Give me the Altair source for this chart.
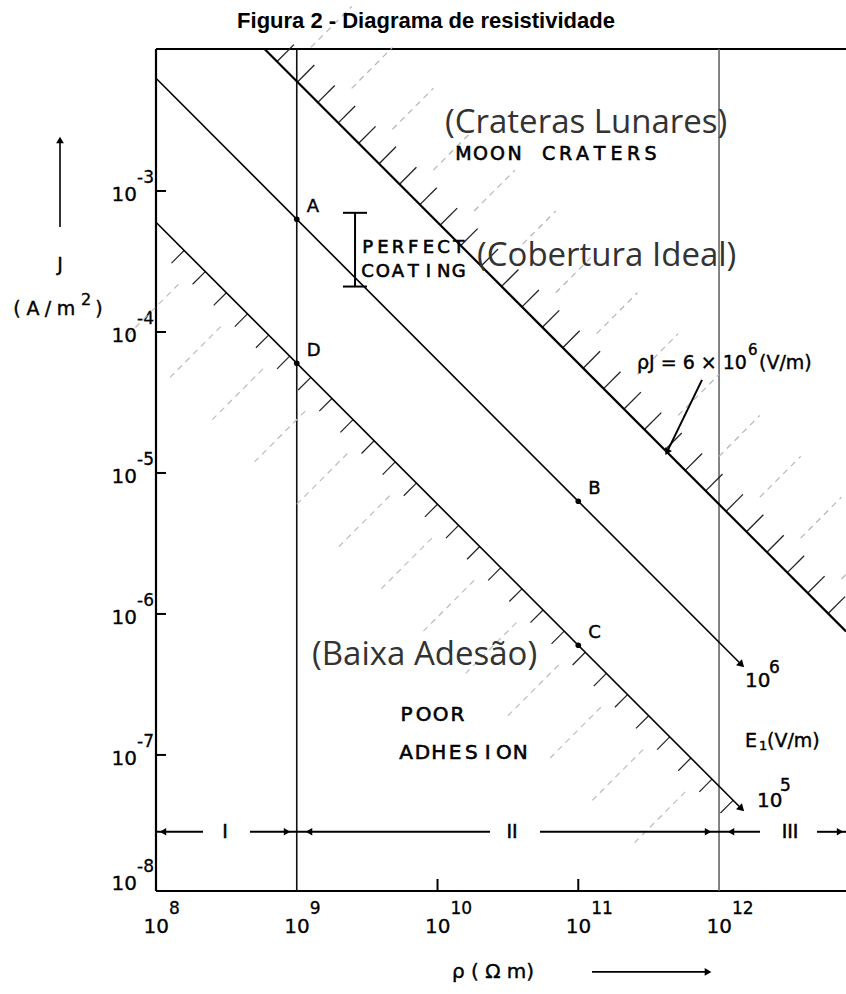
import altair as alt
import pandas as pd
import numpy as np

# ---------------- data ----------------
# axis decades
rho_ticks = [1e8, 1e9, 1e10, 1e11, 1e12]
rho_exp = ["8", "9", "10", "11", "12"]
j_ticks = [1e-3, 1e-4, 1e-5, 1e-6, 1e-7, 1e-8]
j_exp = ["-3", "-4", "-5", "-6", "-7", "-8"]

# constant-field lines  rho * J = E  (V/m)
line_E = [6.0e6, 6.3e5, 6.0e4]
line_rho_start = [10 ** 8.771, 1e8, 1e8]
line_rho_end = [10 ** 12.902, 10 ** 12.16, 10 ** 12.16]
line_width = [2.2, 1.6, 1.6]

# marked points
pt_name = ["A", "B", "C", "D"]
pt_rho = [1e9, 1e11, 1e11, 1e9]
pt_J = [6.3e-4, 6.3e-6, 6.0e-7, 6.0e-5]

# resistivity regions
region_edges = [1e9, 1e12]
region_edge_color = ["#111111", "#666666"]
region_labels = ["I", "II", "III"]
region_J = 2.85e-8

# perfect-coating band
coat_rho = 10 ** 9.414
coat_J = [7.0e-4, 2.1e-4]

# ---------------- geometry ----------------
W, H = 690, 842
OX, OY = 156, 49
RHO_MAX = 10 ** 12.902
J_MIN, J_MAX = 10 ** -7.965, 10 ** -1.993
DX, DY = 140.75, 141.0  # pixels per decade


def P(x):
    """page x -> resistivity"""
    return 10 ** (8 + (x - OX) / DX)


def Q(y):
    """page y -> current density"""
    return 10 ** (np.log10(J_MAX) - (y - OY) / DY)


def ypix(j):
    return OY + DY * (np.log10(J_MAX) - np.log10(j))


xs = alt.Scale(type="log", domain=[1e8, RHO_MAX], nice=False)
ys = alt.Scale(type="log", domain=[J_MIN, J_MAX], nice=False)


def X(f="rho"):
    return alt.X(f"{f}:Q", scale=xs, axis=None)


def Y(f="J"):
    return alt.Y(f"{f}:Q", scale=ys, axis=None)


one = pd.DataFrame({"k": [0]})
layers = []


def seg_layer(df, color="black", width=1.5, dash=None, opacity=1.0):
    kw = dict(color=color, strokeWidth=width, opacity=opacity)
    if dash:
        kw["strokeDash"] = dash
    return alt.Chart(df).mark_rule(**kw).encode(
        x=X("rho"), y=Y("J"), x2=alt.X2("rho2:Q"), y2=alt.Y2("J2:Q"))


def text_layer(df, size=20, font="DejaVu Sans", color="black", align="center",
               baseline="middle", weight="normal", dx=0, dy=0, stroke=None):
    kw = dict(fontSize=size, font=font, color=color, align=align,
              baseline=baseline, fontWeight=weight, dx=dx, dy=dy)
    if stroke:
        kw["stroke"] = color
        kw["strokeWidth"] = stroke
    return alt.Chart(df).mark_text(**kw).encode(x=X("rho"), y=Y("J"), text="t:N")


def spaced(text, x_left, y_mid, pitch):
    rows = []
    for i, c in enumerate(text):
        if c != " ":
            rows.append({"t": c, "rho": P(x_left + pitch * (i + 0.5)), "J": Q(y_mid)})
    return pd.DataFrame(rows)


def at(items):
    return pd.DataFrame([{"t": t, "rho": P(x), "J": Q(y)} for t, x, y in items])


# ---------------- frame ----------------
frame = alt.Chart(one).mark_rule(color="black", strokeWidth=2.2)
layers += [
    frame.encode(x=alt.value(0), x2=alt.value(W), y=alt.value(0)),
    frame.encode(x=alt.value(0), y=alt.value(0), y2=alt.value(H)),
    frame.encode(x=alt.value(0), x2=alt.value(W), y=alt.value(H)),
]

# region boundaries (full-height verticals)
edges = pd.DataFrame({"rho": region_edges, "c": region_edge_color})
layers.append(alt.Chart(edges).mark_rule(strokeWidth=1.6).encode(
    x=X("rho"), y=alt.value(0), y2=alt.value(H), color=alt.Color("c:N", scale=None)))

# axis ticks (inside)
yt = pd.DataFrame({"J": j_ticks[:-1]})
layers.append(alt.Chart(yt).mark_rule(color="black", strokeWidth=2).encode(
    x=alt.value(0), x2=alt.value(10), y=Y("J")))
xt = pd.DataFrame({"rho": [1e10, 1e11]})
layers.append(alt.Chart(xt).mark_rule(color="black", strokeWidth=2).encode(
    x=X("rho"), y=alt.value(H), y2=alt.value(H - 12)))

# tick labels: "10" with raised exponent
ylab_y = [ypix(j) + 4 for j in j_ticks[:-1]] + [884]
ybase = pd.DataFrame({"t": ["10"] * len(j_ticks), "rho": P(137), "J": [Q(v) for v in ylab_y]})
yexp = pd.DataFrame({"t": j_exp, "rho": P(137), "J": [Q(v - 17) for v in ylab_y]})
layers.append(text_layer(ybase, size=20, align="right", stroke=0.3))
layers.append(text_layer(yexp, size=17, align="left", stroke=0.3))

xlab_x = [OX + DX * np.log10(r / 1e8) + 13 for r in rho_ticks]
xbase = pd.DataFrame({"t": ["10"] * len(rho_ticks), "rho": [P(v) for v in xlab_x], "J": Q(927)})
xexp = pd.DataFrame({"t": rho_exp, "rho": [P(v) for v in xlab_x], "J": Q(909)})
layers.append(text_layer(xbase, size=20, align="right", stroke=0.3))
layers.append(text_layer(xexp, size=17, align="left", stroke=0.3))

# ---------------- hatching ----------------
def hatch(E, lo, hi, step, L0, L1, sign):
    lr = np.arange(lo, hi, step)
    r0 = 10 ** lr
    j0 = E / r0
    return pd.DataFrame({"rho": r0 * 10 ** (sign * L0), "J": j0 * 10 ** (sign * L0),
                         "rho2": r0 * 10 ** (sign * L1), "J2": j0 * 10 ** (sign * L1)})

# crater side of the 6e6 line: short ticks + faint long strokes
layers.append(seg_layer(hatch(line_E[0], 8.86, 12.9, 0.145, 0.0, 0.12, +1), color="#222", width=1.3))
layers.append(seg_layer(hatch(line_E[0], 8.93, 12.9, 0.29, 0.17, 0.46, +1), color="#b5b5b5", width=1.2, dash=[6, 5]))
# poor-adhesion side of the lower line
layers.append(seg_layer(hatch(line_E[2], 8.2, 12.1, 0.15, 0.0, 0.09, -1), color="#222", width=1.2))
layers.append(seg_layer(hatch(line_E[2], 8.3, 12.1, 0.3, 0.14, 0.5, -1), color="#bdbdbd", width=1.2, dash=[6, 5]))

# ---------------- field lines ----------------
lines = pd.DataFrame({
    "rho": line_rho_start, "J": [e / r for e, r in zip(line_E, line_rho_start)],
    "rho2": line_rho_end, "J2": [e / r for e, r in zip(line_E, line_rho_end)],
    "w": line_width,
})
layers.append(alt.Chart(lines).mark_rule(color="black").encode(
    x=X("rho"), y=Y("J"), x2=alt.X2("rho2:Q"), y2=alt.Y2("J2:Q"),
    strokeWidth=alt.StrokeWidth("w:Q", scale=None)))

# arrowheads at the ends of the two labelled lines
heads = pd.DataFrame({"rho": line_rho_end[1:], "J": [e / r for e, r in zip(line_E[1:], line_rho_end[1:])]})
layers.append(alt.Chart(heads).mark_point(shape="triangle-up", filled=True, color="black",
                                          size=70, angle=135, opacity=1).encode(x=X("rho"), y=Y("J")))

# points A-D
pts = pd.DataFrame({"rho": pt_rho, "J": pt_J, "t": pt_name})
layers.append(alt.Chart(pts).mark_circle(color="black", size=32, opacity=1).encode(x=X("rho"), y=Y("J")))
layers.append(text_layer(pts, size=18, align="left", dx=10, dy=-12, stroke=0.4))

# ---------------- region bar ----------------
seg_px = [(OX, 203), (250, 297), (297, 490), (540, 719), (719, 760), (817, 846)]
reg = pd.DataFrame({"rho": [P(a) for a, b in seg_px], "rho2": [P(b) for a, b in seg_px],
                    "J": region_J, "J2": region_J})
layers.append(seg_layer(reg, width=2))
arrows = pd.DataFrame({"rho": [P(163), P(287), P(309), P(708), P(731), P(840)], "J": region_J,
                       "s": ["triangle-left", "triangle-right", "triangle-left", "triangle-right", "triangle-left", "triangle-right"]})
layers.append(alt.Chart(arrows).mark_point(filled=True, color="black", size=55, opacity=1).encode(
    x=X("rho"), y=Y("J"), shape=alt.Shape("s:N", scale=None)))
layers.append(text_layer(at([("I", 225, 832), ("II", 512, 832), ("III", 790, 832)]), size=19, stroke=0.5))

# ---------------- perfect coating bar ----------------
coat = pd.DataFrame({"rho": [coat_rho], "J": [coat_J[0]], "rho2": [coat_rho], "J2": [coat_J[1]]})
layers.append(seg_layer(coat, width=2))
caps = pd.DataFrame({"rho": P(343), "rho2": P(367), "J": coat_J, "J2": coat_J})
layers.append(seg_layer(caps, width=2))

# ---------------- leader arrow to the 6e6 line ----------------
lead_from = (10 ** 11.879, 10 ** -4.340)
lead_to = (10 ** 11.63, line_E[0] / 10 ** 11.63)
lead = pd.DataFrame({"rho": [lead_from[0]], "J": [lead_from[1]], "rho2": [lead_to[0]], "J2": [lead_to[1]]})
layers.append(seg_layer(lead, width=2))
layers.append(alt.Chart(pd.DataFrame({"rho": [lead_to[0]], "J": [lead_to[1]]})).mark_point(
    shape="triangle-up", filled=True, color="black", size=60, angle=208, opacity=1).encode(x=X("rho"), y=Y("J")))

# ---------------- texts ----------------
PT = "Open Sans"
layers.append(text_layer(at([("(Crateras Lunares)", 445, 123)]), size=33, font=PT, color="#333", align="left"))
layers.append(text_layer(at([("(Cobertura Ideal)", 477, 256)]), size=33, font=PT, color="#333", align="left"))
layers.append(text_layer(at([("(Baixa Adesão)", 312, 655)]), size=33, font=PT, color="#333", align="left"))

LS = 0.6  # pen weight of the stencil lettering
layers.append(text_layer(spaced("MOON CRATERS", 455, 154, 17.0), size=19, stroke=LS))
layers.append(text_layer(spaced("PERFECT", 360, 248, 15.2), size=18, stroke=LS))
layers.append(text_layer(spaced("COATING", 360, 272, 15.2), size=18, stroke=LS))
layers.append(text_layer(spaced("POOR", 398, 715, 17.0), size=20, stroke=LS))
layers.append(text_layer(spaced("ADHESION", 398, 753, 16.3), size=20, stroke=LS))

# rho J = 6 x 10^6 (V/m)
layers.append(text_layer(at([("ρJ = 6 × 10", 637, 363)]), size=19, align="left", stroke=0.4))
layers.append(text_layer(at([("6", 748, 350)]), size=15, align="left", stroke=0.4))
layers.append(text_layer(at([("(V/m)", 759, 363)]), size=19, align="left", stroke=0.4))

# line values
layers.append(text_layer(at([("10", 745, 681), ("10", 757, 801)]), size=20, align="left", stroke=0.4))
layers.append(text_layer(at([("6", 769, 668), ("5", 780, 786)]), size=17, align="left", stroke=0.4))

# E1 (V/m)
layers.append(text_layer(at([("E", 745, 741)]), size=19, align="left", stroke=0.4))
layers.append(text_layer(at([("1", 759, 746)]), size=13, align="left", stroke=0.4))
layers.append(text_layer(at([("(V/m)", 767, 741)]), size=19, align="left", stroke=0.4))

# y-axis title: arrow, J, (A/m2)
yarrow = pd.DataFrame({"rho": [P(60)], "J": [Q(227)], "rho2": [P(60)], "J2": [Q(140)]})
layers.append(seg_layer(yarrow, width=1.6))
layers.append(alt.Chart(pd.DataFrame({"rho": [P(60)], "J": [Q(140)]})).mark_point(
    shape="triangle-up", filled=True, color="black", size=60, opacity=1).encode(x=X("rho"), y=Y("J")))
layers.append(text_layer(at([("J", 60, 265)]), size=19, stroke=0.4))
layers.append(text_layer(at([("(", 17, 309), ("A", 33, 309), ("/", 48, 309), ("m", 66, 309), (")", 99, 309)]),
                         size=19, stroke=0.4))
layers.append(text_layer(at([("2", 86, 300)]), size=16, stroke=0.4))

# x-axis title: rho (Omega m) with arrow
layers.append(text_layer(at([("ρ ( Ω  m)", 452, 972)]), size=20, align="left", stroke=0.4))
xarrow = pd.DataFrame({"rho": [P(592)], "J": [Q(972)], "rho2": [P(705)], "J2": [Q(972)]})
layers.append(seg_layer(xarrow, width=1.8))
layers.append(alt.Chart(pd.DataFrame({"rho": [P(708)], "J": [Q(972)]})).mark_point(
    shape="triangle-right", filled=True, color="black", size=60, opacity=1).encode(x=X("rho"), y=Y("J")))

# title
layers.append(text_layer(at([("Figura 2 - Diagrama de resistividade", 426, 21)]), size=22,
                         font="Liberation Sans", weight="bold"))

chart = alt.layer(*layers).properties(
    width=W, height=H,
    padding={"left": OX, "top": OY, "right": 0, "bottom": 994 - OY - H},
    autosize=alt.AutoSizeParams(type="none"),
).configure_view(stroke=None).configure(background="white")

chart.save("out.html", embed_options={"renderer": "svg", "actions": False})
